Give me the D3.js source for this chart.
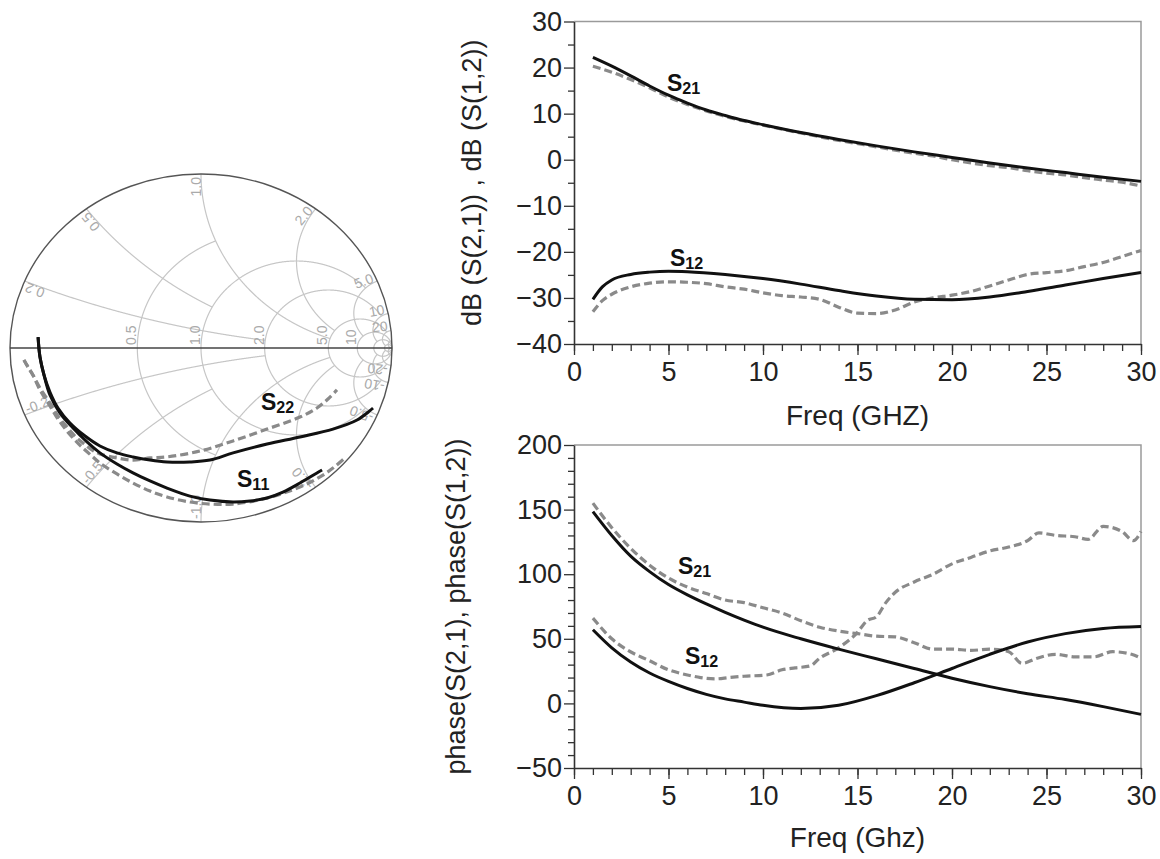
<!DOCTYPE html>
<html><head><meta charset="utf-8">
<script src="https://cdn.jsdelivr.net/npm/d3@7"></script>
<style>
body{margin:0;background:#fff}
svg{display:block}
text{font-family:"Liberation Sans",Arial,sans-serif}
</style>
</head><body>
<svg id="c" width="1160" height="859"></svg>
<script>
// ================= DATA =================
const freqTicks=[0,5,10,15,20,25,30];
const freqMinor=d3.range(0,31,1);
const dbTicks=[-40,-30,-20,-10,0,10,20,30];
const dbMinor=[-35,-25,-15,-5,5,15,25];
const phaseTicks=[-50,0,50,100,150,200];
const phaseMinor=[-40,-30,-20,-10,10,20,30,40,60,70,80,90,110,120,130,140,160,170,180,190];

// smooth (simulated) curves share one frequency grid
const fSim=[1,2,3,4,5,6,7,8,9,10,12,14,16,18,20,22,24,26,28,30];
const s21dbSim=[22.2,20.3,18.2,16.0,14.0,12.3,10.8,9.6,8.5,7.6,5.9,4.4,3.0,1.7,0.5,-0.7,-1.8,-2.8,-3.8,-4.7];
const fS12dbSim=[1,1.5,2,3,4,5,6,8,10,12,14,16,18,20,22,24,26,28,30];
const s12dbSim=[-30.3,-27.6,-26.1,-24.9,-24.4,-24.2,-24.3,-24.9,-25.8,-27.0,-28.4,-29.6,-30.3,-30.4,-29.8,-28.6,-27.2,-25.8,-24.5];
const s21phSim=[148.5,130,114,102,92,84,77,70.5,64.5,59,50,42,34.5,27,19.5,13,7.5,3,-2.5,-8.5];
const s12phSim=[57,43,32,23.5,17,11.5,7,3.5,1,-1.5,-4,-1.5,6,16,27,38,47.5,54,58,59.5];

// measured (dashed) curves
const fS21dbMeas=[1,2,3,4,5,6,7,8,9,10,12,14,16,18,19,20,21,22,23,24,25,26,27,28,29,30];
const s21dbMeas=[20.3,19.0,17.4,15.6,13.6,12.0,10.6,9.4,8.4,7.5,5.8,4.2,2.8,1.4,0.8,0.0,-0.7,-1.3,-1.7,-2.4,-2.9,-3.3,-3.9,-4.4,-4.9,-5.7];
const fS12dbMeas=[1,1.5,2,3,4,5,6,7,8,9,10,11,12,13,14,15,16,17,18,19,20,21,22,23,24,25,26,27,28,29,30];
const s12dbMeas=[-33.0,-30.6,-29.2,-27.6,-26.8,-26.5,-26.6,-26.9,-27.6,-28.1,-28.9,-29.5,-29.8,-30.3,-32.0,-33.3,-33.4,-32.6,-30.9,-30.0,-29.4,-28.6,-27.4,-26.1,-24.9,-24.5,-24.1,-23.2,-22.3,-21.0,-19.7];
const fS21phMeas=[1,2,3,4,5,6,7,8,9,10,11,12,13,14,15,16,17,18,19,20,21,22,23,23.7,24.5,25.5,26.5,27.5,28.5,29.5,30];
const s21phMeas=[155,136,120,107,97,90,85,80,78,74,70,64,59,56,54,52,51.5,47,42,42,41,42,40,31,35,38,36,36,40,38,35];
const fS12phMeas=[1,2,2.8,4,5,6,6.7,7.5,8.2,9,10.2,11,11.7,12.5,13,14,15,15.5,16,16.5,17,18,19,20,21,22,23,24,24.6,25.5,26.5,27.2,28,29,29.6,30];
const s12phMeas=[66,50,41.5,33,26,22,20,19,20,21,22,26,27.5,29,35,43,55,64,67,78,86,94,100,108,113,118,121,126,132,130,129,127,137,133,126,133];

// Smith chart traces (reflection coefficient, real / imag)
const s11SimRe=[-0.853,-0.843,-0.822,-0.791,-0.738,-0.670,-0.597,-0.529,-0.440,-0.356,-0.267,-0.178,-0.058,0.047,0.168,0.257,0.346,0.429,0.518,0.607,0.634];
const s11SimIm=[0.063,-0.052,-0.155,-0.270,-0.374,-0.460,-0.540,-0.603,-0.667,-0.718,-0.764,-0.805,-0.851,-0.874,-0.885,-0.879,-0.862,-0.828,-0.776,-0.718,-0.701];
const s22SimRe=[-0.853,-0.843,-0.822,-0.791,-0.749,-0.686,-0.607,-0.529,-0.440,-0.356,-0.267,-0.178,-0.058,0.047,0.168,0.346,0.518,0.691,0.817,0.901];
const s22SimIm=[0.063,-0.052,-0.155,-0.253,-0.345,-0.431,-0.506,-0.563,-0.603,-0.626,-0.644,-0.655,-0.655,-0.644,-0.603,-0.552,-0.511,-0.466,-0.414,-0.345];
const s11MeasRe=[-0.927,-0.906,-0.880,-0.843,-0.791,-0.749,-0.702,-0.660,-0.618,-0.571,-0.529,-0.440,-0.356,-0.267,-0.178,-0.058,0.047,0.168,0.346,0.518,0.623,0.691,0.754];
const s11MeasIm=[-0.069,-0.109,-0.155,-0.241,-0.333,-0.408,-0.477,-0.529,-0.575,-0.621,-0.661,-0.724,-0.776,-0.822,-0.856,-0.885,-0.897,-0.897,-0.862,-0.799,-0.741,-0.690,-0.632];
const s22MeasRe=[-0.927,-0.906,-0.880,-0.843,-0.791,-0.749,-0.702,-0.660,-0.618,-0.571,-0.529,-0.440,-0.356,-0.267,-0.178,-0.005,0.168,0.346,0.518,0.607,0.665,0.712];
const s22MeasIm=[-0.069,-0.109,-0.155,-0.230,-0.316,-0.391,-0.454,-0.506,-0.546,-0.586,-0.609,-0.632,-0.644,-0.632,-0.626,-0.592,-0.534,-0.466,-0.397,-0.345,-0.293,-0.241];

// Smith grid values
const rCircles=[0.5,1,2,5,10,20,50];
const rCircleXmax=[1,5,10,20,Infinity,Infinity,Infinity];
const xArcs=[0.2,0.5,1,2,5,10,20,50];
const xArcRmax=[2,1,5,5,10,20,50,Infinity];
const xLabelVals=[0.2,0.5,1,2,5,10,20];
const xLabelPos=["0.2","0.5","1.0","2.0","5.0","10","20"];
const xLabelNeg=["-0.2","-0.5","-1.0","-2.0","-5.0","-10","-20"];
const rLabelVals=[0.5,1,2,5,10];
const rLabelText=["0.5","1.0","2.0","5.0","10"];

// ================= DRAW =================
const svg=d3.select('#c');
const SOLID='#111', DASH='#8a8a8a';

function sLabel(x,y,sub,fs){
  const t=svg.append('text').attr('x',x).attr('y',y).attr('font-weight','bold').attr('font-size',fs).attr('fill','#111');
  t.append('tspan').text('S');
  t.append('tspan').attr('font-size',fs*0.7).attr('dy',fs*0.15).text(sub);
}

// ---------- Smith chart ----------
const SC={cx:201,cy:348,rx:191,ry:174};
const gx=d3.scaleLinear().domain([-1,1]).range([SC.cx-SC.rx,SC.cx+SC.rx]);
const gy=d3.scaleLinear().domain([-1,1]).range([SC.cy+SC.ry,SC.cy-SC.ry]);
function gam(r,x){const dr=r+1,den=dr*dr+x*x;return [((r-1)*dr+x*x)/den,2*x/den];}
const gline=d3.line().x(d=>gx(d[0])).y(d=>gy(d[1]));
const sg=svg.append('g');
const GRID='#c6c6c6';
rCircles.forEach((r,i)=>{
  const X=rCircleXmax[i];let pts=[];
  if(!isFinite(X)){
    const c=r/(1+r),R=1/(1+r);
    pts=d3.range(0,361).map(a=>[c+R*Math.cos(a*Math.PI/180),R*Math.sin(a*Math.PI/180)]);
  }else{
    pts=d3.range(-800,801).map(k=>{const t=k/800;return gam(r,X*Math.sign(t)*Math.pow(Math.abs(t),1.6));});
  }
  sg.append('path').attr('d',gline(pts)).attr('fill','none').attr('stroke',GRID).attr('stroke-width',1.2);
});
xArcs.forEach((xv,i)=>{
  const R=isFinite(xArcRmax[i])?xArcRmax[i]:400;
  [1,-1].forEach(s=>{
    const pts=d3.range(0,801).map(k=>gam(R*Math.pow(k/800,1.8),s*xv));
    sg.append('path').attr('d',gline(pts)).attr('fill','none').attr('stroke',GRID).attr('stroke-width',1.2);
  });
});
sg.append('ellipse').attr('cx',gx(0)).attr('cy',gy(0)).attr('rx',gx(1)-gx(0)).attr('ry',gy(0)-gy(1))
  .attr('fill','none').attr('stroke','#555').attr('stroke-width',1.4);
sg.append('line').attr('x1',gx(-1)).attr('x2',gx(1)).attr('y1',gy(0)).attr('y2',gy(0)).attr('stroke','#444').attr('stroke-width',1.4);
const LBL='#aaaaaa';
xLabelVals.forEach((xv,i)=>{
  [1,-1].forEach(s=>{
    const g=gam(0,s*xv);const px=gx(g[0]),py=gy(g[1]);
    let dx=px-SC.cx,dy=py-SC.cy;const L=Math.hypot(dx,dy);dx/=L;dy/=L;
    const a=Math.atan2(dy,dx)*180/Math.PI;
    const ix=px-dx*3,iy=py-dy*3;
    sg.append('text').attr('transform',`translate(${ix},${iy}) rotate(${s>0?a:a+180})`)
      .attr('text-anchor',s>0?'end':'start').attr('font-size',14).attr('fill',LBL)
      .text(s>0?xLabelPos[i]:xLabelNeg[i]);
  });
});
rLabelVals.forEach((r,i)=>{
  const g=gam(r,0);
  sg.append('text').attr('transform',`translate(${gx(g[0])-1},${gy(0)-3}) rotate(-90)`)
    .attr('font-size',14).attr('fill',LBL).text(rLabelText[i]);
});
const toPts=(re,im)=>re.map((v,i)=>[v,im[i]]);
const gcurve=d3.line().x(d=>gx(d[0])).y(d=>gy(d[1])).curve(d3.curveCatmullRom);
[[s11MeasRe,s11MeasIm],[s22MeasRe,s22MeasIm]].forEach(d=>{
  sg.append('path').attr('d',gcurve(toPts(d[0],d[1]))).attr('fill','none').attr('stroke',DASH).attr('stroke-width',3.2).attr('stroke-dasharray','8,4');
});
[[s11SimRe,s11SimIm],[s22SimRe,s22SimIm]].forEach(d=>{
  sg.append('path').attr('d',gcurve(toPts(d[0],d[1]))).attr('fill','none').attr('stroke',SOLID).attr('stroke-width',3);
});
sLabel(261,410,'22',23);
sLabel(237,487,'11',23);

// ---------- Cartesian panels ----------
function panel(cfg){
  const x=d3.scaleLinear().domain([0,30]).range([574,1141]);
  const y=d3.scaleLinear().domain(cfg.yDomain).range(cfg.yRange);
  const g=svg.append('g');
  const [yb,yt]=cfg.yRange;
  g.append('path').attr('d',`M${x(0)},${yt}H${x(30)}V${yb}`).attr('fill','none').attr('stroke','#9a9a9a').attr('stroke-width',1.5);
  const ym=g.append('g').attr('transform',`translate(${x(0)},0)`).call(d3.axisLeft(y).tickValues(cfg.yMinor).tickSize(6).tickSizeOuter(0).tickFormat(''));
  const xm=g.append('g').attr('transform',`translate(0,${yb})`).call(d3.axisBottom(x).tickValues(freqMinor).tickSize(7).tickSizeOuter(0).tickFormat(''));
  [ym,xm].forEach(a=>{a.select('.domain').remove();a.selectAll('line').attr('stroke','#333').attr('stroke-width',1.3);});
  const ya=g.append('g').attr('transform',`translate(${x(0)},0)`).call(d3.axisLeft(y).tickValues(cfg.yTicks).tickSize(10).tickSizeOuter(0).tickPadding(2));
  const xa=g.append('g').attr('transform',`translate(0,${yb})`).call(d3.axisBottom(x).tickValues(freqTicks).tickSize(11).tickSizeOuter(0).tickPadding(7));
  [ya,xa].forEach(a=>{
    a.select('.domain').attr('stroke','#333').attr('stroke-width',1.6);
    a.selectAll('line').attr('stroke','#333').attr('stroke-width',1.3);
    a.selectAll('text').attr('font-size',27).attr('fill','#222').attr('font-family','"Liberation Sans",Arial,sans-serif');
  });
  g.append('text').attr('x',x(15)).attr('y',cfg.xTitleY).attr('text-anchor','middle').attr('font-size',28).attr('fill','#222').text(cfg.xTitle);
  g.append('text').attr('transform',`translate(${cfg.yTitleX},${(yb+yt)/2}) rotate(-90)`).attr('text-anchor','middle').attr('font-size',27).attr('fill','#222').text(cfg.yTitle);
  const line=d3.line().x(d=>x(d[0])).y(d=>y(d[1])).curve(d3.curveMonotoneX);
  cfg.series.forEach(s=>{
    g.append('path').attr('d',line(s.f.map((f,i)=>[f,s.v[i]]))).attr('fill','none')
      .attr('stroke',s.dash?DASH:SOLID).attr('stroke-width',s.dash?3.2:3)
      .attr('stroke-dasharray',s.dash?'8,4':null);
  });
}
panel({yDomain:[-40,30],yRange:[344,21.5],yTicks:dbTicks,yMinor:dbMinor,
  xTitle:'Freq (GHZ)',xTitleY:425,yTitle:'dB (S(2,1)) , dB (S(1,2))',yTitleX:481,
  series:[{f:fS21dbMeas,v:s21dbMeas,dash:true},{f:fS12dbMeas,v:s12dbMeas,dash:true},
          {f:fSim,v:s21dbSim},{f:fS12dbSim,v:s12dbSim}]});
panel({yDomain:[-50,200],yRange:[768,445],yTicks:phaseTicks,yMinor:phaseMinor,
  xTitle:'Freq (Ghz)',xTitleY:847,yTitle:'phase(S(2,1),  phase(S(1,2))',yTitleX:465,
  series:[{f:fS21phMeas,v:s21phMeas,dash:true},{f:fS12phMeas,v:s12phMeas,dash:true},
          {f:fSim,v:s21phSim},{f:fSim,v:s12phSim}]});
sLabel(667,91,'21',23);
sLabel(670,266,'12',23);
sLabel(678,574,'21',23);
sLabel(685,664,'12',23);
</script>
</body></html>
